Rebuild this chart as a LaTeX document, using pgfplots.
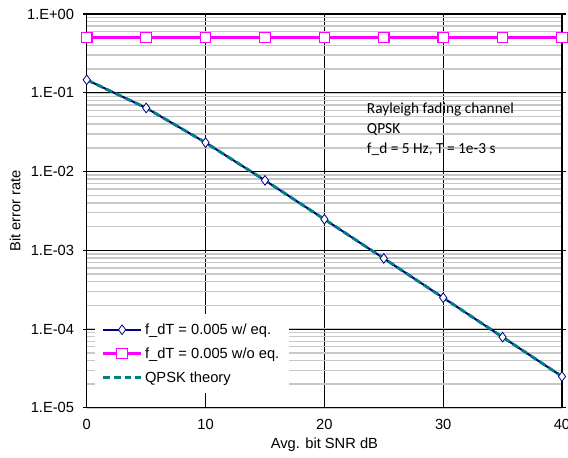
\documentclass[border=0pt]{standalone}
\usepackage{fontspec}
\setmainfont{Liberation Sans}
\newfontfamily\calibri{Carlito}
\usepackage{pgfplots}
\pgfplotsset{compat=1.18}
\definecolor{Navy}{HTML}{000080}
\definecolor{Mag}{HTML}{FF00FF}
\definecolor{Tl}{HTML}{008080}
\definecolor{MinorGrid}{HTML}{C8C8C8}

\begin{document}
\begin{tikzpicture}
\useasboundingbox (-65pt,-37.5pt) rectangle (360.5pt,305.5pt);
\begin{semilogyaxis}[
  at={(0pt,0pt)},anchor=south west,
  scale only axis,
  width=356pt,height=295pt,
  xmin=0,xmax=40,ymin=1e-5,ymax=1,
  xtick={0,10,20,30,40},
  ytick={1e-5,1e-4,1e-3,1e-2,1e-1,1},
  yticklabels={1.E-05,1.E-04,1.E-03,1.E-02,1.E-01,1.E+00},
  /pgf/number format/assume math mode=true,
  tick label style={font=\fontsize{11}{13}\selectfont},
  yticklabel style={xshift=-3pt},
  xticklabel style={yshift=-2pt},
  label style={font=\fontsize{11}{13}\selectfont},
  xlabel={Avg. bit SNR dB},
  ylabel={Bit error rate},
  xlabel style={yshift=1pt},
  ylabel style={yshift=-2pt},
  xmajorgrids,ymajorgrids,yminorgrids,
  major grid style={black,line width=0.8pt},
  minor grid style={MinorGrid,line width=1.1pt},
  axis line style={black,line width=0.8pt},
  tick align=outside,
  major tick length=3pt,
  minor tick length=0pt,
  xtick style={draw=none},
  ytick style={black,line width=0.8pt},
  legend style={at={(rel axis cs:0.017,0.036)},anchor=south west,draw=none,fill=white,
    font=\fontsize{11}{13}\selectfont,row sep=4.5pt,inner xsep=5pt,inner ysep=5pt},
  legend cell align=left,
  legend image code/.code={\draw[mark repeat=2,mark phase=2] plot coordinates {(0pt,0pt) (14pt,0pt) (28pt,0pt)};},
]
\addplot[Navy,line width=1.5pt,mark=diamond*,mark size=3.6pt,mark options={fill=white,draw=Navy,line width=0.6pt,solid}]
  coordinates {(0,0.146) (5,0.0642) (10,0.0233) (15,0.00772) (20,0.00248) (25,0.000789) (30,0.000250) (35,0.0000790) (40,0.0000250)};
\addlegendentry{f\_dT = 0.005 w/ eq.}
\addplot[Mag,line width=2.4pt,mark=square*,mark size=3.9pt,mark options={fill=white,draw=Mag,line width=0.8pt,solid}]
  coordinates {(0,0.5) (5,0.5) (10,0.5) (15,0.5) (20,0.5) (25,0.5) (30,0.5) (35,0.5) (40,0.5)};
\addlegendentry{f\_dT = 0.005 w/o eq.}
\addplot[Tl,line width=2.2pt,dash pattern=on 5pt off 3pt]
  coordinates {(0,0.146) (5,0.0642) (10,0.0233) (15,0.00772) (20,0.00248) (25,0.000789) (30,0.000250) (35,0.0000790) (40,0.0000250)};
\addlegendentry{QPSK theory}
\node[anchor=north west,align=left,font=\calibri\fontsize{11.5}{15}\selectfont,inner sep=0pt]
  at (rel axis cs:0.589,0.775) {Rayleigh fading channel\\QPSK\\f\_d = 5 Hz, T = 1e-3 s};
\end{semilogyaxis}
\end{tikzpicture}
\end{document}
